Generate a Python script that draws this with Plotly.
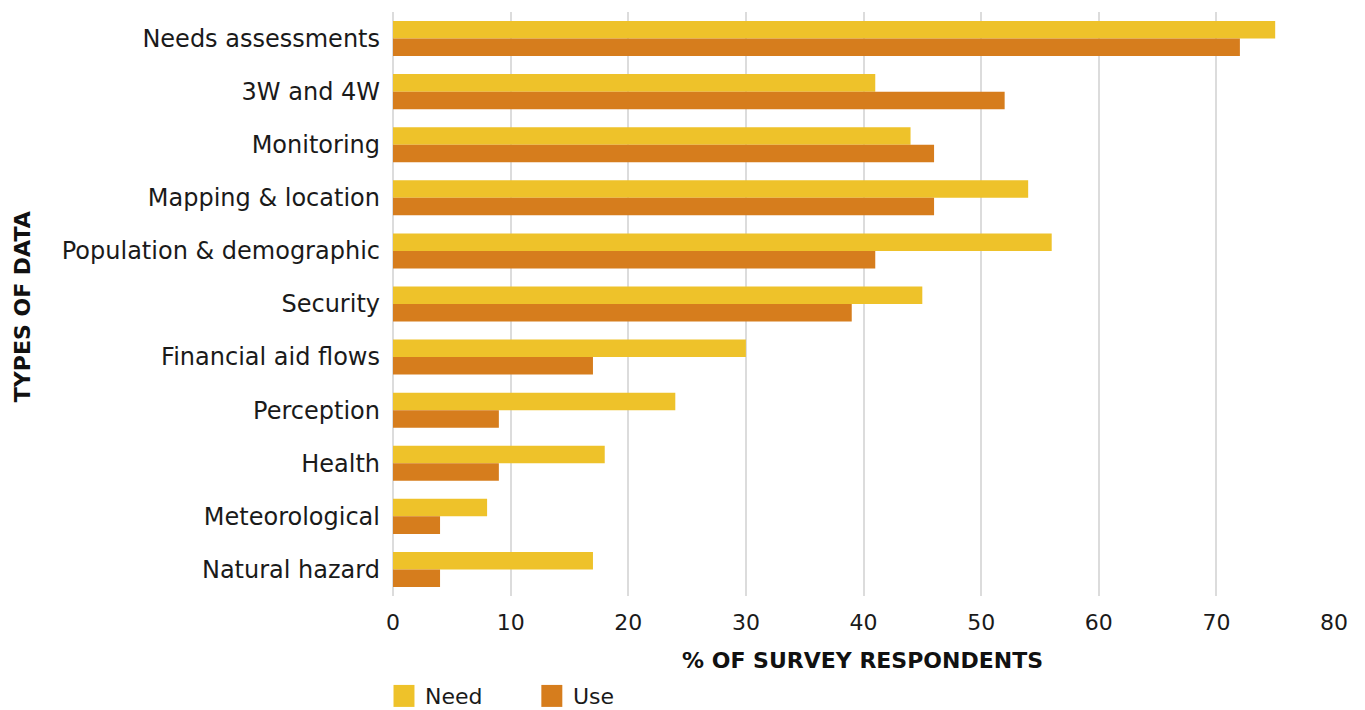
import plotly.graph_objects as go

categories = ["Needs assessments", "3W and 4W", "Monitoring", "Mapping & location",
              "Population & demographic", "Security", "Financial aid flows",
              "Perception", "Health", "Meteorological", "Natural hazard"]
need = [75, 41, 44, 54, 56, 45, 30, 24, 18, 8, 17]
use = [72, 52, 46, 46, 41, 39, 17, 9, 9, 4, 4]
x_ticks = [0, 10, 20, 30, 40, 50, 60, 70, 80]
series_names = ["Need", "Use"]
series_colors = ["#EEC22A", "#D67D1D"]

FONT = "DejaVu Sans"
OFF = 8  # page body margin
W, H = 1365 - OFF, 710 - OFF

# absolute page coordinates of plot area
PX0, PX1, PY0, PY1 = 392.5, 1334.5, 11.5, 596
L, R, T, B = PX0 - OFF, 1365 - PX1, PY0 - OFF, 710 - PY1
pw = W - L - R
ph = H - T - B


def px(xabs):
    return (xabs - PX0) / pw


def py(yabs):
    return (PY1 - yabs) / ph


fig = go.Figure()
for name, vals, col in zip(series_names, [need, use], series_colors):
    fig.add_trace(go.Bar(y=categories, x=vals, name=name, orientation="h",
                         marker=dict(color=col, line=dict(width=0)), showlegend=False))

fig.update_layout(
    width=W, height=H,
    paper_bgcolor="white", plot_bgcolor="white",
    barmode="group", bargap=0.34, bargroupgap=0,
    margin=dict(l=L, r=R, t=T, b=B, autoexpand=False),
    font=dict(family=FONT, size=21, color="#1a1a1a"),
    xaxis=dict(range=[0, 80], tickvals=x_ticks, showgrid=True, gridcolor="#dcdcdc",
               gridwidth=2, zeroline=True, zerolinecolor="#dcdcdc", zerolinewidth=2,
               tickfont=dict(size=22), ticks="", ticklabelstandoff=11,
               automargin=False, fixedrange=True),
    yaxis=dict(autorange="reversed", tickfont=dict(size=24), ticks="", ticklabelstandoff=12,
               showgrid=False, showline=False, automargin=False, fixedrange=True),
    showlegend=False,
)

# axis titles
fig.add_annotation(text="<b>% OF SURVEY RESPONDENTS</b>", xref="paper", yref="paper",
                   x=px(862), y=py(661), xanchor="center", yanchor="middle", showarrow=False,
                   font=dict(size=22, color="#111", family=FONT))
fig.add_annotation(text="<b>TYPES OF DATA</b>", xref="paper", yref="paper",
                   x=px(21), y=py(306), xanchor="center", yanchor="middle",
                   textangle=-90, showarrow=False,
                   font=dict(size=22, color="#111", family=FONT))

# legend (custom, larger squares)
leg_x = [393, 541]
for name, col, lx in zip(series_names, series_colors, leg_x):
    fig.add_shape(type="rect", xref="paper", yref="paper", x0=px(lx), x1=px(lx + 21),
                  y0=py(707), y1=py(685), fillcolor=col, line=dict(width=0))
    fig.add_annotation(text=name, xref="paper", yref="paper", x=px(lx + 30),
                       y=py(697), xanchor="left", yanchor="middle",
                       showarrow=False, font=dict(size=22, family=FONT, color="#1a1a1a"))

fig.write_html("out.html")
